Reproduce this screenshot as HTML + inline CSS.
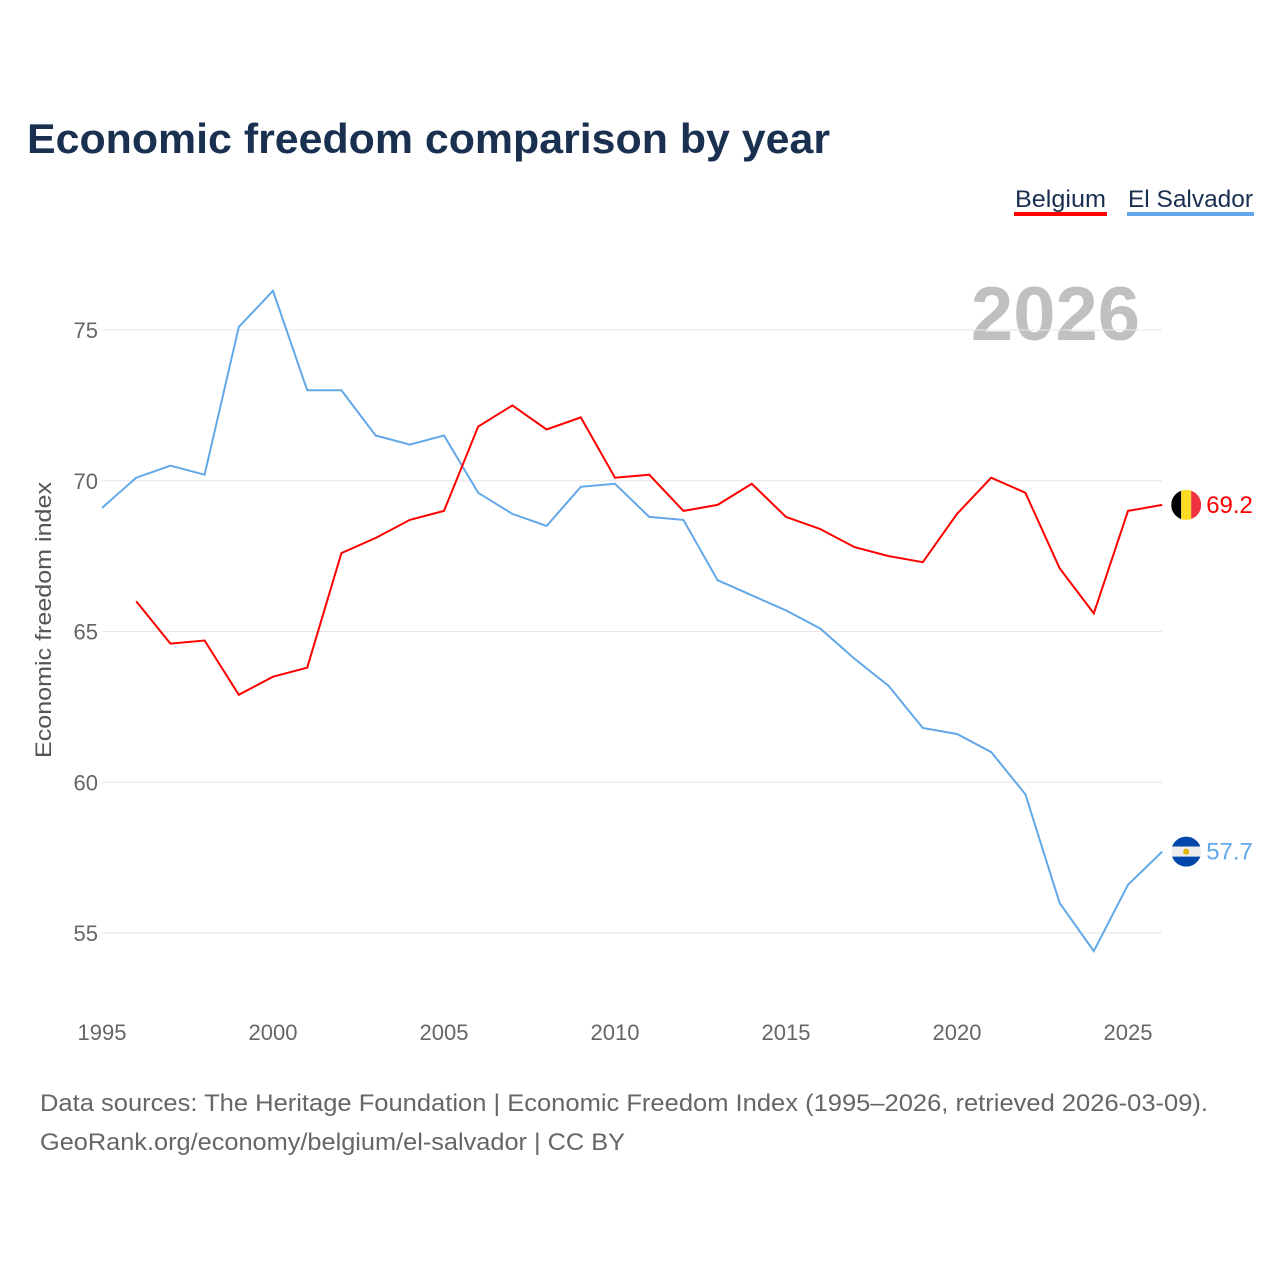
<!DOCTYPE html>
<html><head><meta charset="utf-8"><style>
body{margin:0;background:#fff;font-family:"Liberation Sans",sans-serif}
svg text{font-family:"Liberation Sans",sans-serif}
</style></head><body>
<svg id="chart" width="1280" height="1280" viewBox="0 0 1280 1280">
<text x="27" y="153" font-size="42" font-weight="bold" fill="#1a3050" textLength="803" lengthAdjust="spacingAndGlyphs">Economic freedom comparison by year</text>
<g>
<text x="1015" y="207" font-size="24" fill="#1a3050" textLength="91" lengthAdjust="spacingAndGlyphs">Belgium</text>
<rect x="1014" y="212" width="93" height="4" fill="#ff0000"/>
<text x="1128" y="207" font-size="24" fill="#1a3050" textLength="125" lengthAdjust="spacingAndGlyphs">El Salvador</text>
<rect x="1127" y="212" width="127" height="4" fill="#62a8e8"/>
</g>
<text x="1140" y="340" font-size="76" font-weight="bold" fill="#c0c0c0" text-anchor="end">2026</text>
<text transform="translate(51,620) rotate(-90)" font-size="22" fill="#555" text-anchor="middle" textLength="276" lengthAdjust="spacingAndGlyphs">Economic freedom index</text>
<g id="grid"></g><g id="xt"></g><g id="lines"></g>
<g font-size="24" fill="#666">
<text x="40" y="1111" textLength="1168" lengthAdjust="spacingAndGlyphs">Data sources: The Heritage Foundation | Economic Freedom Index (1995–2026, retrieved 2026-03-09).</text>
<text x="40" y="1150" textLength="585" lengthAdjust="spacingAndGlyphs">GeoRank.org/economy/belgium/el-salvador | CC BY</text>
</g>
</svg>
<script>
const years=[1995,1996,1997,1998,1999,2000,2001,2002,2003,2004,2005,2006,2007,2008,2009,2010,2011,2012,2013,2014,2015,2016,2017,2018,2019,2020,2021,2022,2023,2024,2025,2026];
const belgium=[null,66.0,64.6,64.7,62.9,63.5,63.8,67.6,68.1,68.7,69.0,71.8,72.5,71.7,72.1,70.1,70.2,69.0,69.2,69.9,68.8,68.4,67.8,67.5,67.3,68.9,70.1,69.6,67.1,65.6,69.0,69.2];
const elSalvador=[69.1,70.1,70.5,70.2,75.1,76.3,73.0,73.0,71.5,71.2,71.5,69.6,68.9,68.5,69.8,69.9,68.8,68.7,66.7,66.2,65.7,65.1,64.1,63.2,61.8,61.6,61.0,59.6,56.0,54.4,56.6,57.7];
const yTicks=[55,60,65,70,75];
const xTicks=[1995,2000,2005,2010,2015,2020,2025];
const NS="http://www.w3.org/2000/svg";
const xS=y=>102+(y-1995)*34.2;
const yS=v=>330+(75-v)*30.15;
function mk(t,a,p){const e=document.createElementNS(NS,t);for(const k in a)e.setAttribute(k,a[k]);p.appendChild(e);return e;}
const grid=document.getElementById('grid');
yTicks.forEach(v=>{
 const l=mk('line',{x1:102,x2:1162,y1:yS(v),y2:yS(v),stroke:'#e6e6e6','stroke-width':1},grid);
 
 
 const t=mk('text',{x:98,y:yS(v)+8,'font-size':22,fill:'#666','text-anchor':'end'},grid);
 t.textContent=v;
 
 
});
const xt=document.getElementById('xt');
xTicks.forEach(y=>{
 const t=mk('text',{x:xS(y),y:1040,'font-size':22,fill:'#666','text-anchor':'middle'},xt);
 t.textContent=y;
 
 
});
const lines=document.getElementById('lines');
function series(vals,color,name){
 let d='';vals.forEach((v,i)=>{if(v==null)return;d+=(d?'L':'M')+xS(years[i]).toFixed(1)+','+yS(v).toFixed(1);});
 const p=mk('path',{d:d,fill:'none',stroke:color,'stroke-width':2},lines);
 
 
 const last=vals[vals.length-1];const cx=xS(years[years.length-1])+24,cy=yS(last);
 const g=mk('g',{},lines);
 
 
 const cp='clip-'+name;
 const c=mk('clipPath',{id:cp},g);mk('circle',{cx:cx,cy:cy,r:15},c);
 const gg=mk('g',{'clip-path':'url(#'+cp+')'},g);
 if(name==='belgium'){
  mk('rect',{x:cx-15,y:cy-15,width:10,height:30,fill:'#000'},gg);
  mk('rect',{x:cx-5,y:cy-15,width:10,height:30,fill:'#fdda24'},gg);
  mk('rect',{x:cx+5,y:cy-15,width:10,height:30,fill:'#ef3340'},gg);
 }else{
  mk('rect',{x:cx-15,y:cy-15,width:30,height:10,fill:'#0047ab'},gg);
  mk('rect',{x:cx-15,y:cy-5,width:30,height:10,fill:'#eee'},gg);
  mk('rect',{x:cx-15,y:cy+5,width:30,height:10,fill:'#0047ab'},gg);
  mk('circle',{cx:cx,cy:cy,r:3,fill:'#e2b400'},gg);
 }
 const t=mk('text',{x:cx+20,y:cy+8,'font-size':24,fill:color},lines);
 t.textContent=last.toFixed(1);
 
 
}
series(elSalvador,'#62a8e8','el-salvador');
series(belgium,'#ff0000','belgium');
</script>
</body></html>
